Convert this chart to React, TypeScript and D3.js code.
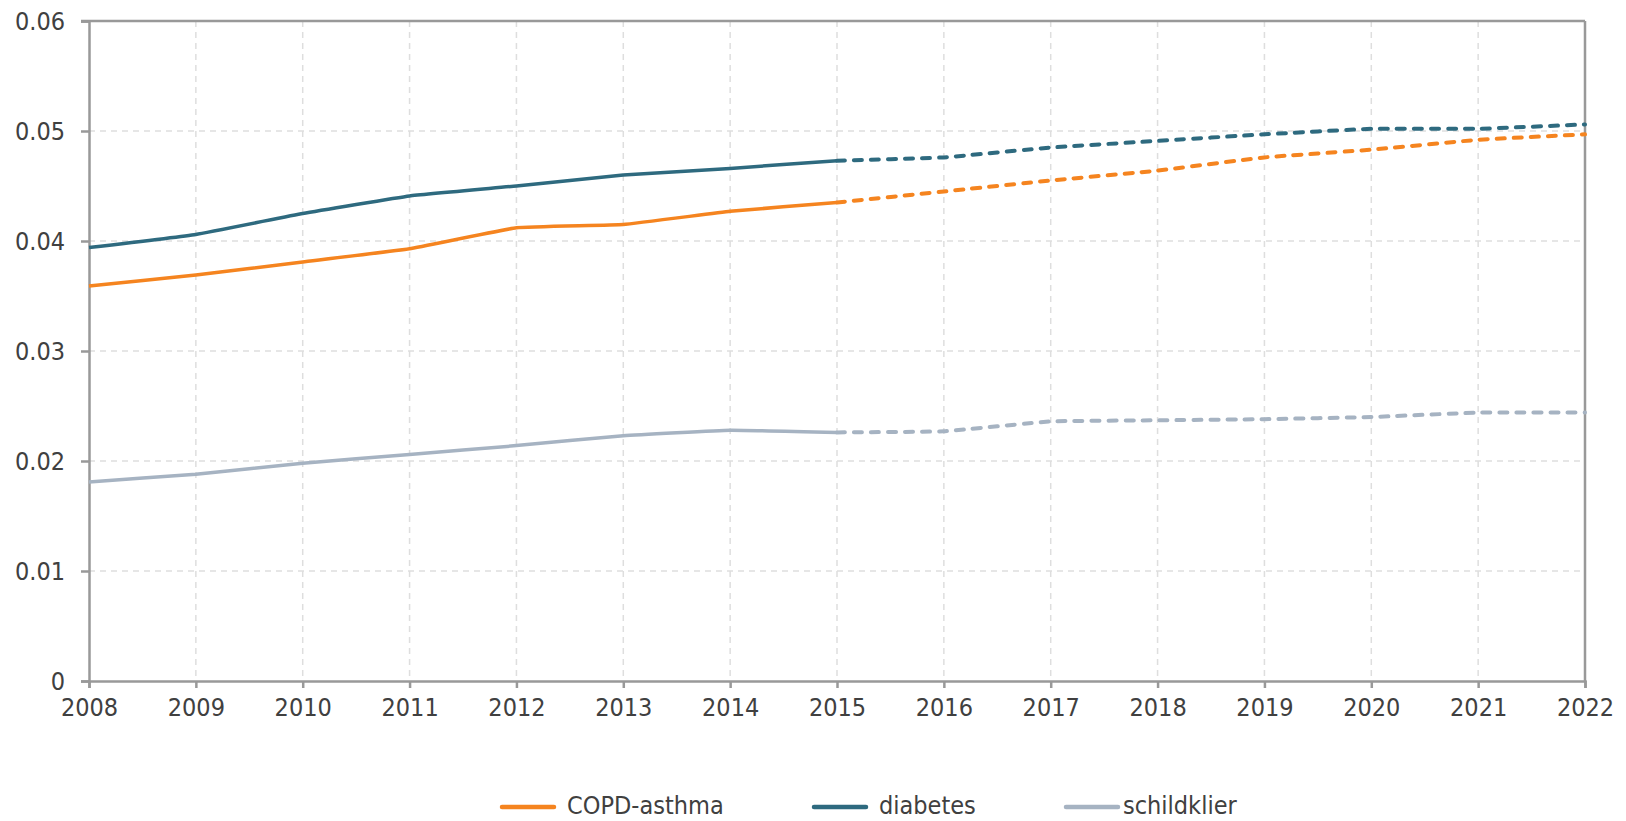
import { useEffect, useRef } from "react";
import * as d3 from "d3";

const years = [2008, 2009, 2010, 2011, 2012, 2013, 2014, 2015, 2016, 2017, 2018, 2019, 2020, 2021, 2022];
const lastObserved = 2015;

const copdAsthma = [0.0359, 0.0369, 0.0381, 0.0393, 0.0412, 0.0415, 0.0427, 0.0435, 0.0445, 0.0455, 0.0464, 0.0476, 0.0483, 0.0492, 0.0497];
const diabetes = [0.0394, 0.0406, 0.0425, 0.0441, 0.045, 0.046, 0.0466, 0.0473, 0.0476, 0.0485, 0.0491, 0.0497, 0.0502, 0.0502, 0.0506];
const schildklier = [0.0181, 0.0188, 0.0198, 0.0206, 0.0214, 0.0223, 0.0228, 0.0226, 0.0227, 0.0236, 0.0237, 0.0238, 0.024, 0.0244, 0.0244];

const yTicks = [0, 0.01, 0.02, 0.03, 0.04, 0.05, 0.06];

const seriesNames = ["COPD-asthma", "diabetes", "schildklier"];
const seriesColors = ["#F5841F", "#2E6A7F", "#A6B3C2"];

const W = 1626;
const H = 821;
const margin = { top: 21, right: 41, bottom: 140, left: 89 };
const axisColor = "#999999";
const textColor = "#404040";
const font = "'DejaVu Sans Condensed', 'DejaVu Sans', sans-serif";

// legend layout: start x of each item's swatch, gap before label
const legendX = [502, 814, 1066];
const legendSwatch = 52;
const legendTextGap = [13, 13, 5];

export default function App() {
  const ref = useRef<SVGSVGElement>(null);

  useEffect(() => {
    if (!ref.current) return;
    const root = d3.select(ref.current);
    root.selectAll("*").remove();

    const width = W - margin.left - margin.right;
    const height = H - margin.top - margin.bottom;

    const x = d3.scaleLinear().domain([2008, 2022]).range([0, width]);
    const y = d3.scaleLinear().domain([0, 0.06]).range([height, 0]);

    const g = root.append("g").attr("transform", `translate(${margin.left},${margin.top})`);

    // grid
    g.append("g")
      .selectAll("line")
      .data(yTicks.filter((t) => t > 0 && t < 0.06))
      .enter()
      .append("line")
      .attr("x1", 0)
      .attr("x2", width)
      .attr("y1", (d) => y(d))
      .attr("y2", (d) => y(d))
      .attr("stroke", "#dedede")
      .attr("stroke-width", 1.5)
      .attr("stroke-dasharray", "6,5");

    g.append("g")
      .selectAll("line")
      .data(years.slice(1, -1))
      .enter()
      .append("line")
      .attr("x1", (d) => x(d))
      .attr("x2", (d) => x(d))
      .attr("y1", 0)
      .attr("y2", height)
      .attr("stroke", "#dedede")
      .attr("stroke-width", 1.5)
      .attr("stroke-dasharray", "6,5");

    // frame top / right
    g.append("line")
      .attr("x1", -8)
      .attr("x2", width)
      .attr("y1", 0)
      .attr("y2", 0)
      .attr("stroke", axisColor)
      .attr("stroke-width", 2.5);
    g.append("line")
      .attr("x1", width)
      .attr("x2", width)
      .attr("y1", 0)
      .attr("y2", height)
      .attr("stroke", axisColor)
      .attr("stroke-width", 2.5);

    // Y axis
    g.append("g")
      .call(
        d3
          .axisLeft(y)
          .tickValues(yTicks)
          .tickSize(8)
          .tickPadding(16)
          .tickFormat((d) => (d === 0 ? "0" : d3.format(".2f")(d as number)))
      )
      .call((s) => s.select(".domain").attr("stroke", axisColor).attr("stroke-width", 2.5))
      .call((s) => s.selectAll(".tick line").attr("stroke", axisColor).attr("stroke-width", 2.5))
      .call((s) =>
        s
          .selectAll(".tick text")
          .attr("fill", textColor)
          .style("font-family", font)
          .style("font-size", "25px")
      );

    // X axis
    g.append("g")
      .attr("transform", `translate(0,${height})`)
      .call(
        d3
          .axisBottom(x)
          .tickValues(years)
          .tickSize(7)
          .tickPadding(10)
          .tickFormat((d) => String(d))
      )
      .call((s) => s.select(".domain").attr("stroke", axisColor).attr("stroke-width", 2.5))
      .call((s) => s.selectAll(".tick line").attr("stroke", axisColor).attr("stroke-width", 2.5))
      .call((s) =>
        s
          .selectAll(".tick text")
          .attr("fill", textColor)
          .style("font-family", font)
          .style("font-size", "25px")
      );

    // lines: observed solid, projection dashed
    const allSeries = [copdAsthma, diabetes, schildklier];
    const line = d3
      .line<[number, number]>()
      .x((d) => x(d[0]))
      .y((d) => y(d[1]))
      .curve(d3.curveCardinal.tension(0.7));

    allSeries.forEach((vals, i) => {
      const pts: [number, number][] = years.map((yr, j) => [yr, vals[j]]);
      const solid = pts.filter((p) => p[0] <= lastObserved);
      const dashed = pts.filter((p) => p[0] >= lastObserved);
      g.append("path")
        .attr("d", line(solid))
        .attr("fill", "none")
        .attr("stroke", seriesColors[i])
        .attr("stroke-width", 3.5)
        .attr("stroke-linejoin", "round");
      g.append("path")
        .attr("d", line(dashed))
        .attr("fill", "none")
        .attr("stroke", seriesColors[i])
        .attr("stroke-width", 4)
        .attr("stroke-linecap", "round")
        .attr("stroke-dasharray", "8,9");
    });

    // legend
    const legY = 807;
    const legBaseline = 814;
    const leg = root.append("g");
    seriesNames.forEach((name, i) => {
      leg
        .append("line")
        .attr("x1", legendX[i])
        .attr("x2", legendX[i] + legendSwatch)
        .attr("y1", legY)
        .attr("y2", legY)
        .attr("stroke", seriesColors[i])
        .attr("stroke-width", 4.5)
        .attr("stroke-linecap", "round");
      leg
        .append("text")
        .attr("x", legendX[i] + legendSwatch + legendTextGap[i])
        .attr("y", legBaseline)
        .attr("fill", textColor)
        .style("font-family", font)
        .style("font-size", "25px")
        .text(name);
    });
  }, []);

  return (
    <svg
      ref={ref}
      width={W}
      height={H}
      style={{ position: "absolute", left: 0, top: 0, background: "#fff" }}
    />
  );
}
